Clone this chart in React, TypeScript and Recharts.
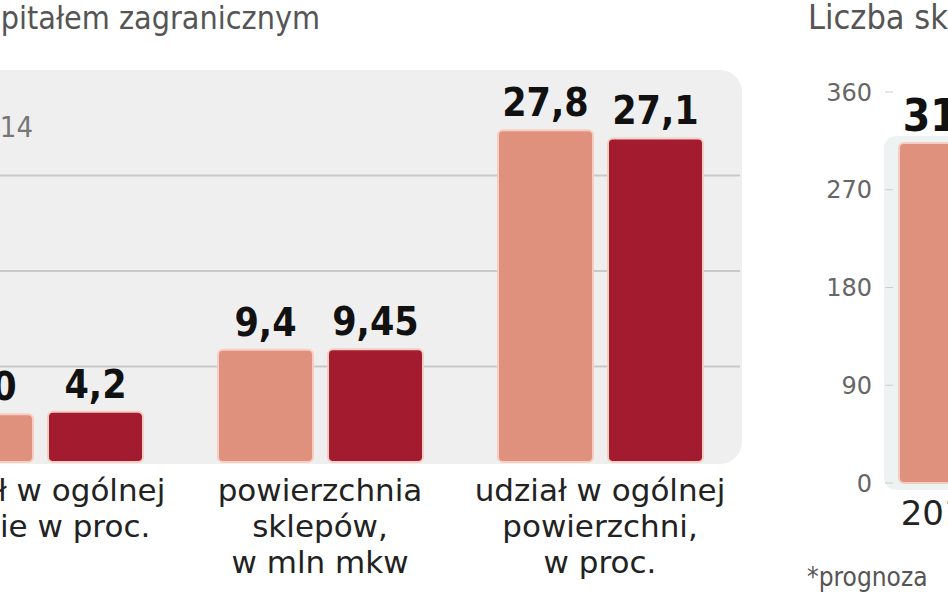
import { BarChart, Bar, XAxis, YAxis, CartesianGrid, LabelList } from "recharts";

// left panel: shops with foreign capital
const categories = [
  ["udział w ogólnej", "liczbie w proc."],
  ["powierzchnia", "sklepów,", "w mln mkw"],
  ["udział w ogólnej", "powierzchni,", "w proc."],
];
const series2013 = [4.0, 9.4, 27.8];
const series2014 = [4.2, 9.45, 27.1];
const gridValues = [8, 16, 24];

// right panel: number of shops
const yearCats = ["2012"];
const shopCounts = [313];
const countTicks = [0, 90, 180, 270, 360];

const leftData = categories.map((c, i) => ({
  cat: c.join("|"),
  a: series2013[i],
  b: series2014[i],
}));
const rightData = yearCats.map((y, i) => ({ year: y, count: shopCounts[i] }));

const COND = "'DejaVu Sans Condensed', 'Liberation Sans Narrow', sans-serif";
const SANS = "'DejaVu Sans', sans-serif";
const ORANGE = "#e0917d";
const DARK = "#a31b2f";
const EDGE = "#f6cdc2";

const fmt = (v: any) => {
  const n = Number(v);
  const s = Number.isInteger(n) ? n.toFixed(1) : String(n);
  return s.replace(".", ",");
};

const CatTick = (props: any) => {
  const { x, y, payload } = props;
  const lines = String(payload.value).split("|");
  return (
    <text x={x} y={y} textAnchor="middle" fill="#222" fontSize={31} fontFamily={SANS}>
      {lines.map((l, i) => (
        <tspan key={i} x={x} y={y + 31 + i * 36}>
          {l}
        </tspan>
      ))}
    </text>
  );
};

const YearTick = (props: any) => {
  const { x, y, payload } = props;
  return (
    <text x={x} y={y + 34} textAnchor="middle" fill="#222" fontSize={34} fontFamily={SANS}>
      {payload.value}
    </text>
  );
};

export default function App() {
  return (
    <div
      style={{
        position: "absolute",
        left: 0,
        top: 0,
        width: 948,
        height: 593,
        overflow: "hidden",
        background: "#fff",
      }}
    >
      {/* panel backgrounds */}
      <div
        style={{
          position: "absolute",
          left: -30,
          top: 70,
          width: 772,
          height: 394,
          background: "#efefef",
          borderRadius: 22,
        }}
      />
      <div
        style={{
          position: "absolute",
          left: 884,
          top: 136,
          width: 140,
          height: 354,
          background: "#eef2f2",
          borderRadius: 12,
        }}
      />

      <svg width={948} height={593} style={{ position: "absolute", left: 0, top: 0 }}>
        <text x={320} y={29} textAnchor="end" fill="#555" fontSize={32} fontFamily={COND}>
          kapitałem zagranicznym
        </text>
        <text x={33} y={137} textAnchor="end" fill="#777" fontSize={29} fontFamily={COND}>
          2014
        </text>
        <text x={808} y={29} fill="#555" fontSize={34} fontFamily={COND}>
          Liczba sklepów
        </text>
        <text x={807} y={586} fill="#555" fontSize={26} fontFamily={COND}>
          *prognoza
        </text>
      </svg>

      <div style={{ position: "absolute", left: -100, top: 0 }}>
        <BarChart
          width={840}
          height={593}
          data={leftData}
          margin={{ top: 80, right: 0, bottom: 0, left: 0 }}
          barGap={15}
          barSize={95}
        >
          <CartesianGrid
            vertical={false}
            horizontalValues={gridValues}
            stroke="#c9c9c9"
            strokeWidth={2}
          />
          <XAxis
            dataKey="cat"
            height={131}
            axisLine={false}
            tickLine={false}
            interval={0}
            tick={<CatTick />}
          />
          <YAxis hide domain={[0, 32]} />
          <Bar dataKey="a" fill={ORANGE} stroke={EDGE} strokeWidth={2} radius={5} isAnimationActive={false}>
            <LabelList
              dataKey="a"
              position="top"
              offset={14}
              formatter={fmt}
              fill="#111"
              fontSize={39}
              fontWeight="bold"
              fontFamily={COND}
            />
          </Bar>
          <Bar dataKey="b" fill={DARK} stroke={EDGE} strokeWidth={2} radius={5} isAnimationActive={false}>
            <LabelList
              dataKey="b"
              position="top"
              offset={14}
              formatter={fmt}
              fill="#111"
              fontSize={39}
              fontWeight="bold"
              fontFamily={COND}
            />
          </Bar>
        </BarChart>
      </div>

      <div style={{ position: "absolute", left: 780, top: 0 }}>
        <BarChart
          width={215}
          height={593}
          data={rightData}
          margin={{ top: 92, right: 0, bottom: 0, left: 0 }}
          barCategoryGap={6}
        >
          <XAxis
            dataKey="year"
            height={110}
            axisLine={false}
            tickLine={false}
            tick={<YearTick />}
          />
          <YAxis
            width={113}
            domain={[0, 360]}
            ticks={countTicks}
            axisLine={false}
            tickSize={8}
            tickMargin={13}
            tickLine={{ stroke: "#cfcfcf" }}
            tick={{ fill: "#666", fontSize: 24, fontFamily: SANS }}
          />
          <Bar dataKey="count" fill={ORANGE} stroke={EDGE} strokeWidth={2} radius={5} isAnimationActive={false}>
            <LabelList
              dataKey="count"
              position="top"
              offset={12}
              fill="#111"
              fontSize={44}
              fontWeight="bold"
              fontFamily={COND}
            />
          </Bar>
        </BarChart>
      </div>
    </div>
  );
}
